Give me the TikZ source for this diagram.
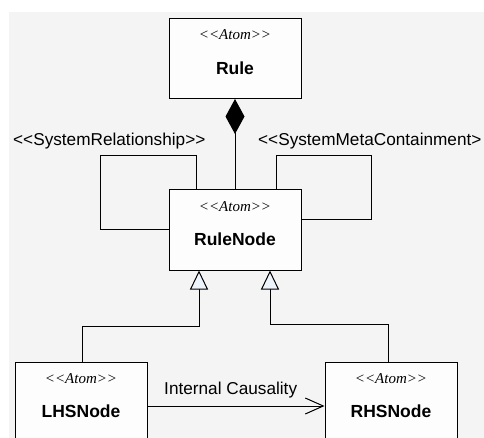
\documentclass[tikz,border=0pt]{standalone}
\usepackage{fontspec}
\setmainfont{Liberation Sans}
\newfontfamily\stereofont{Liberation Serif}
\usetikzlibrary{arrows.meta, calc}
\definecolor{bggray}{HTML}{F4F4F4}
\definecolor{boxfill}{HTML}{FDFDFD}
\definecolor{trifill}{HTML}{EEF4FB}
\tikzset{
	atom/.style={draw, fill=boxfill, line width=1pt, minimum width=132pt, minimum height=80pt, inner sep=0pt},
	stereo/.style={font=\stereofont\itshape\fontsize{15}{17}\selectfont, inner sep=0pt},
	title/.style={font=\bfseries\fontsize{17.5}{20}\selectfont, inner sep=0pt},
	lbl/.style={font=\fontsize{17.2}{20}\selectfont, inner sep=0pt},
	link/.style={line width=1pt},
	gen/.style={link, -{Triangle[open, length=19pt, width=18pt, fill=trifill, line width=1pt]}},
}
\newcommand{\AtomBox}[3]{%
	\node[atom] (#1) at (#2) {};
	\node[stereo] (#1-st) at ($(#1.north)+(0,17)$) {<{}<Atom>{}>};
	\node[title] (#1-ti) at ($(#1.north)+(0,50)$) {#3};
}
\begin{document}
\begin{tikzpicture}[x=1pt, y=-1pt]
\useasboundingbox (0,0) rectangle (484,438);
\clip (0,0) rectangle (484,438);

% Draw background
\fill[white] (0,0) rectangle (484,438);
\fill[bggray] (9,12) rectangle (484,438);

% Draw boxes
\AtomBox{rule}{235,58.5}{Rule}
\AtomBox{rulenode}{235,230}{RuleNode}
\AtomBox{lhs}{81,402}{LHSNode}
\AtomBox{rhs}{391,402}{RHSNode}

% Draw composition
\draw[link, {Diamond[length=35pt, width=19pt]}-] (rule) -- (rulenode);

% Draw self loops
\draw[link] ([xshift=-39pt]rulenode.north) -- ++(0,-34) -- ++(-96,0) |- (rulenode.west);
\draw[link] ([xshift=41pt]rulenode.north) -- ++(0,-34) -- ++(95,0) |- ([yshift=10pt]rulenode.east);
\node[lbl, anchor=west] (sysrel) at (13,141) {<{}<SystemRelationship>{}>};
\node[lbl, anchor=west] (sysmeta) at (258,141) {<{}<SystemMetaContainment>};

% Draw generalisations
\draw[gen] ([xshift=1pt]lhs.north) -- ++(0,-35) -| ([xshift=-36pt]rulenode.south);
\draw[gen] ([xshift=-3pt]rhs.north) -- ++(0,-37) -| ([xshift=35pt]rulenode.south);

% Draw causality
\draw[link, -{Straight Barb[length=18pt, width=16pt, line width=1pt]}] ([yshift=-4pt]lhs.east) -- ([yshift=-4pt]rhs.west)
	node[lbl, pos=0.47, above=7pt] (causal) {Internal Causality};
\end{tikzpicture}
\end{document}
